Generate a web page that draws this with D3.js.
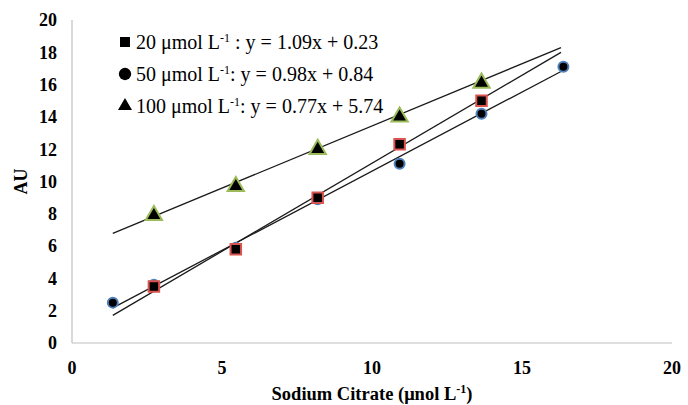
<!DOCTYPE html>
<html>
<head>
<meta charset="utf-8">
<script src="https://d3js.org/d3.v7.min.js"></script>
<style>
  body { margin: 0; background: #fff; }
  text { font-family: "Liberation Serif", "Times New Roman", serif; }
</style>
</head>
<body>
<svg width="688" height="405"></svg>
<script>
// concentrations of sodium citrate (x) and AU readings per series
const xVals = [1.36, 2.73, 5.46, 8.19, 10.92, 13.65, 16.38];
const au20 = [null, 3.5, 5.8, 9.0, 12.3, 15.0, null];
const au50 = [2.5, 3.6, 5.9, 8.9, 11.1, 14.2, 17.1];
const au100 = [null, 7.9, 9.7, 12.0, 14.0, 16.1, null];

const seriesNames = ["20 μmol L", "50 μmol L", "100 μmol L"];
const slopes = [1.09, 0.98, 0.77];
const intercepts = [0.23, 0.84, 5.74];
const fitRange = [1.36, 16.3];

const xTicks = [0, 5, 10, 15, 20];
const yTicks = [0, 2, 4, 6, 8, 10, 12, 14, 16, 18, 20];

const svg = d3.select("svg");
const x = d3.scaleLinear().domain([0, 20]).range([72, 672]);
const y = d3.scaleLinear().domain([0, 20]).range([343, 20]);

// axes lines (light grey, no ticks)
svg.append("line").attr("x1", x(0)).attr("x2", x(0)).attr("y1", y(20)).attr("y2", y(0))
  .attr("stroke", "#c0c0c0").attr("stroke-width", 1.2);
svg.append("line").attr("x1", x(0)).attr("x2", x(20)).attr("y1", y(0)).attr("y2", y(0))
  .attr("stroke", "#c0c0c0").attr("stroke-width", 1.2);

svg.selectAll(".ytick").data(yTicks).enter().append("text")
  .attr("x", 57).attr("y", d => y(d)).attr("dy", "0.35em")
  .attr("text-anchor", "end").attr("font-size", 18).attr("font-weight", "bold")
  .text(d => d);

svg.selectAll(".xtick").data(xTicks).enter().append("text")
  .attr("x", d => x(d)).attr("y", 374)
  .attr("text-anchor", "middle").attr("font-size", 18).attr("font-weight", "bold")
  .text(d => d);

svg.append("text").attr("transform", "translate(27," + y(10) + ") rotate(-90)")
  .attr("text-anchor", "middle").attr("font-size", 18).attr("font-weight", "bold")
  .text("AU");

const xt = svg.append("text").attr("x", 372).attr("y", 400)
  .attr("text-anchor", "middle").attr("font-size", 18.5).attr("font-weight", "bold");
xt.append("tspan").text("Sodium Citrate (μnol L");
xt.append("tspan").attr("font-size", 12).attr("dy", -7).text("-1");
xt.append("tspan").attr("dy", 7).text(")");

// trend lines
slopes.forEach((m, i) => {
  svg.append("line")
    .attr("x1", x(fitRange[0])).attr("y1", y(m * fitRange[0] + intercepts[i]))
    .attr("x2", x(fitRange[1])).attr("y2", y(m * fitRange[1] + intercepts[i]))
    .attr("stroke", "#1a1a1a").attr("stroke-width", 1.3);
});

const pts = (arr) => xVals.map((v, i) => ({x: v, y: arr[i]})).filter(d => d.y !== null);

// circles (50)
svg.selectAll(".c50").data(pts(au50)).enter().append("circle")
  .attr("cx", d => x(d.x)).attr("cy", d => y(d.y)).attr("r", 5)
  .attr("fill", "#000").attr("stroke", "#4f81bd").attr("stroke-width", 2);

// squares (20)
svg.selectAll(".s20").data(pts(au20)).enter().append("path")
  .attr("d", d3.symbol(d3.symbolSquare, 110))
  .attr("transform", d => "translate(" + x(d.x) + "," + y(d.y) + ")")
  .attr("fill", "#000").attr("stroke", "#d9534f").attr("stroke-width", 2);

// triangles (100)
svg.selectAll(".t100").data(pts(au100)).enter().append("path")
  .attr("d", d3.symbol(d3.symbolTriangle, 115))
  .attr("transform", d => "translate(" + x(d.x) + "," + y(d.y) + ")")
  .attr("fill", "#000").attr("stroke", "#9bbb59").attr("stroke-width", 2);

// legend
const legY = [42, 74, 106];
const legSym = [d3.symbolSquare, d3.symbolCircle, d3.symbolTriangle];
const legSize = [100, 120, 85];
seriesNames.forEach((name, i) => {
  svg.append("path").attr("d", d3.symbol(legSym[i], legSize[i]))
    .attr("transform", "translate(125," + legY[i] + ")").attr("fill", "#000");
  const t = svg.append("text").attr("x", 136).attr("y", legY[i]).attr("dy", "0.35em")
    .attr("font-size", 20);
  t.append("tspan").text(name);
  t.append("tspan").attr("font-size", 12).attr("dy", -7).text("-1");
  t.append("tspan").attr("dy", 7)
    .text((i === 0 ? " : " : ": ") + "y = " + slopes[i].toFixed(2) + "x + " + intercepts[i].toFixed(2));
});
</script>
</body>
</html>
